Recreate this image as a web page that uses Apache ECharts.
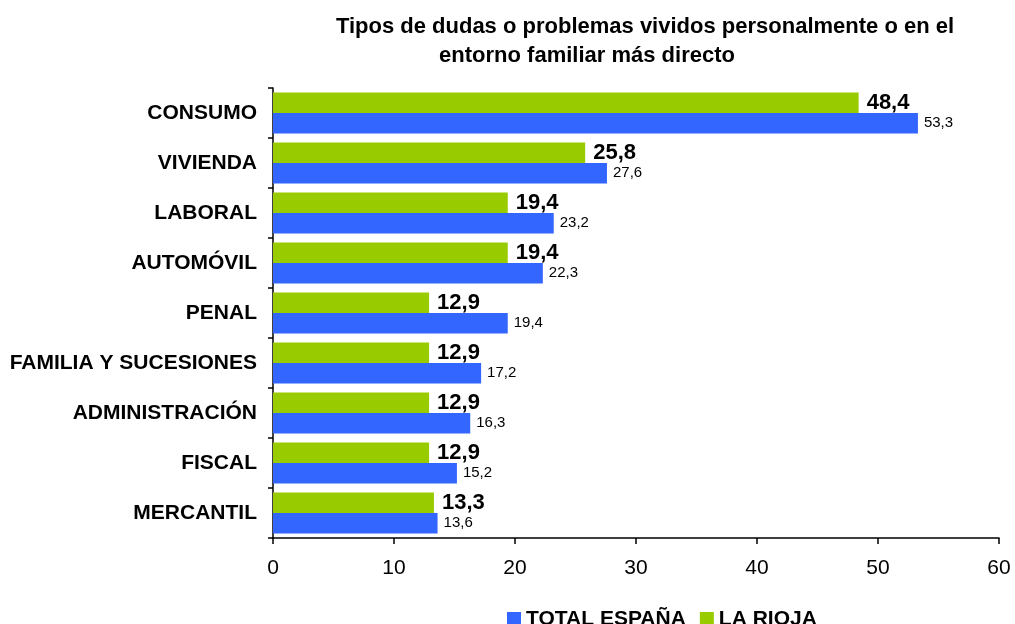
<!DOCTYPE html>
<html>
<head>
<meta charset="utf-8">
<script src="https://cdn.jsdelivr.net/npm/echarts@6/dist/echarts.min.js"></script>
<style>
  html, body { margin: 0; padding: 0; background: #fff; }
  #chart { width: 1015px; height: 624px; }
</style>
</head>
<body>
<div id="chart"></div>
<script>
// datos
const categorias = [
  "CONSUMO", "VIVIENDA", "LABORAL", "AUTOMÓVIL", "PENAL",
  "FAMILIA Y SUCESIONES", "ADMINISTRACIÓN", "FISCAL", "MERCANTIL"
];
const totalEspana = [53.3, 27.6, 23.2, 22.3, 19.4, 17.2, 16.3, 15.2, 13.6];
const laRioja = [48.4, 25.8, 19.4, 19.4, 12.9, 12.9, 12.9, 12.9, 13.3];
const ticksX = [0, 10, 20, 30, 40, 50, 60];

const fuente = "'Liberation Sans', Arial, sans-serif";
const coma = v => String(v).replace(".", ",");

const chart = echarts.init(document.getElementById("chart"));
chart.setOption({
  animation: false,
  textStyle: { fontFamily: fuente, color: "#000" },
  title: [
    {
      text: "Tipos de dudas o problemas vividos personalmente o en el",
      left: 640, top: 11, textAlign: "center",
      textStyle: { fontSize: 22, fontWeight: "bold", fontFamily: fuente, color: "#000" }
    },
    {
      text: "entorno familiar más directo",
      left: 582, top: 40, textAlign: "center",
      textStyle: { fontSize: 22, fontWeight: "bold", fontFamily: fuente, color: "#000" }
    }
  ],
  legend: {
    data: ["TOTAL ESPAÑA", "LA RIOJA"],
    left: 502, top: 604,
    itemWidth: 14, itemHeight: 15, itemGap: 14,
    icon: "rect",
    textStyle: { fontSize: 21, fontWeight: "bold", fontFamily: fuente, color: "#000" }
  },
  grid: { left: 273, right: 16, top: 88, bottom: 86, containLabel: false },
  xAxis: {
    type: "value",
    min: ticksX[0], max: ticksX[ticksX.length - 1], interval: 10,
    axisLine: { show: true, lineStyle: { color: "#000", width: 1.5 } },
    axisTick: { show: true, length: 6, lineStyle: { color: "#000", width: 1.5 } },
    splitLine: { show: false },
    axisLabel: { fontSize: 21, color: "#000", margin: 20, fontFamily: fuente }
  },
  yAxis: {
    type: "category",
    data: categorias,
    inverse: true,
    axisLine: { show: true, lineStyle: { color: "#000", width: 1.5 } },
    axisTick: { show: true, length: 5, lineStyle: { color: "#000", width: 1.5 } },
    axisLabel: { fontSize: 21, fontWeight: "bold", color: "#000", margin: 16, fontFamily: fuente }
  },
  series: [
    {
      name: "LA RIOJA",
      type: "bar",
      data: laRioja,
      itemStyle: { color: "#99CC00" },
      barGap: 0,
      barCategoryGap: "18%",
      label: {
        show: true, position: "right", distance: 8,
        fontSize: 22, fontWeight: "bold", color: "#000", fontFamily: fuente,
        formatter: p => coma(p.value)
      }
    },
    {
      name: "TOTAL ESPAÑA",
      type: "bar",
      data: totalEspana,
      itemStyle: { color: "#3366FF" },
      barGap: 0,
      barCategoryGap: "18%",
      label: {
        show: true, position: "right", distance: 6,
        fontSize: 15, color: "#000", fontFamily: fuente,
        formatter: p => coma(p.value)
      }
    }
  ]
});
</script>
</body>
</html>
